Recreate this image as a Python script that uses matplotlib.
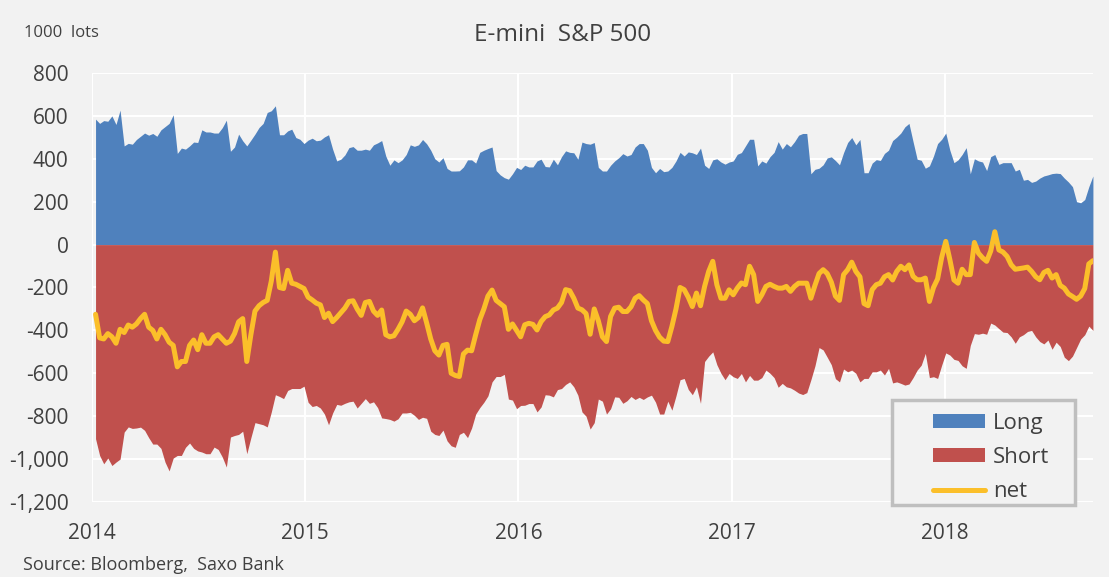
import numpy as np
import pandas as pd
import matplotlib
matplotlib.use('Agg')
import matplotlib.pyplot as plt
from matplotlib.patches import Rectangle
from matplotlib.ticker import FuncFormatter

# weekly positioning, 1000 lots
start_date = '2014-01-07'
year_ticks = ['2014', '2015', '2016', '2017', '2018']
y_ticks = [800, 600, 400, 200, 0, -200, -400, -600, -800, -1000, -1200]

long_vals = [
    585, 565, 578, 575, 600, 560, 627, 460, 472, 468, 490, 505, 520, 510, 518, 505, 535, 550, 565, 605,
    425, 450, 445, 460, 478, 476, 535, 525, 525, 520, 520, 545, 580, 435, 455,
    515, 484, 460, 487, 515, 546, 565, 616, 624, 647, 512, 512, 530, 538, 499, 491, 471, 487, 496, 484,
    487, 502, 512, 445, 390, 398, 418, 452, 457, 440, 440, 445, 440, 465, 474,
    485, 413, 370, 395, 382, 395, 420, 465, 458, 465, 490, 470, 440, 400, 385, 405, 355, 343, 343, 344,
    362, 395, 395, 380, 430, 440, 448, 455, 345, 325, 312, 305, 330, 360, 350,
    370, 362, 362, 390, 398, 364, 362, 398, 372, 410, 437, 430, 428, 398, 478, 471, 468, 476, 360, 343,
    343, 370, 390, 405, 424, 413, 420, 455, 471, 471, 440, 360, 335, 355, 340,
    343, 360, 390, 430, 413, 432, 428, 420, 450, 370, 355, 395, 400, 385, 375, 385, 390, 421, 429, 460,
    491, 491, 367, 390, 380, 410, 430, 480, 445, 471, 456, 480, 510, 518,
    518, 330, 351, 356, 372, 404, 409, 392, 372, 429, 476, 499, 465, 490, 335, 335, 380, 396, 392, 425,
    440, 485, 501, 520, 549, 565, 480, 398, 393, 356, 367, 413, 471, 491, 520,
    440, 382, 395, 420, 452, 330, 400, 390, 385, 345, 410, 420, 374, 382, 382, 382, 343, 351, 300, 304,
    290, 296, 310, 320, 325, 331, 333, 331, 310, 292, 270, 200, 195, 210, 270, 320,
]

short_vals = [
    -905, -983, -1022, -995, -1030, -1014, -1000, -874, -850, -857, -855, -851, -866, -900, -930, -930,
    -950, -1014, -1055, -995, -983, -983, -945, -925, -950, -962, -967, -975, -975, -944, -955, -990,
    -1037, -897, -890,
    -885, -870, -975, -900, -830, -835, -840, -850, -780, -700, -708, -718, -680, -671, -671, -671,
    -660, -735, -755, -750, -762, -790, -840, -785, -745, -749, -740, -733, -730, -762, -740, -718,
    -740, -733, -760,
    -808, -811, -815, -823, -812, -785, -785, -782, -796, -815, -805, -810, -870, -885, -890, -865,
    -915, -938, -945, -885, -875, -900, -855, -790, -760, -735, -705, -640, -615, -615, -605, -720,
    -725, -765, -750,
    -749, -741, -741, -780, -757, -700, -702, -710, -676, -671, -652, -640, -663, -702, -780, -800,
    -860, -830, -720, -730, -790, -765, -710, -712, -740, -728, -708, -722, -712, -722, -710, -702,
    -735, -790, -790,
    -730, -772, -705, -630, -624, -675, -700, -663, -740, -545, -520, -500, -560, -600, -630, -601,
    -616, -624, -601, -640, -610, -632, -632, -620, -585, -600, -620, -665, -647, -663, -668, -679,
    -692, -699,
    -690, -630, -565, -480, -491, -525, -560, -625, -640, -580, -593, -585, -600, -640, -624, -624,
    -593, -593, -585, -608, -577, -645, -640, -647, -655, -650, -620, -585, -562, -507, -620, -616,
    -624, -562, -505,
    -515, -535, -540, -565, -577, -470, -415, -418, -413, -418, -366, -375, -392, -408, -410, -430,
    -460, -430, -420, -405, -400, -430, -452, -463, -445, -488, -455, -475, -525, -541, -520, -480,
    -440, -420, -380, -400,
]

net_vals = [
    -325, -435, -440, -415, -430, -460, -395, -410, -375, -385, -370, -345, -325, -385, -400, -440,
    -395, -420, -455, -470, -570, -545, -545, -470, -445, -490, -420, -460, -460, -430, -420, -440,
    -460, -450, -415,
    -360, -345, -545, -420, -310, -285, -270, -260, -170, -35, -200, -205, -120, -180, -185, -195,
    -205, -245, -258, -273, -281, -340, -320, -359, -340, -318, -296, -265, -262, -300, -330, -270,
    -265, -310, -330,
    -305, -420, -430, -425, -395, -360, -310, -325, -355, -340, -295, -365, -440, -495, -515, -470,
    -465, -600, -610, -615, -510, -492, -495, -420, -350, -300, -240, -212, -260, -275, -290, -395,
    -370, -400, -430,
    -374, -367, -372, -398, -359, -336, -328, -305, -296, -270, -210, -215, -250, -296, -304, -322,
    -418, -300, -355, -430, -452, -335, -296, -292, -312, -312, -290, -250, -238, -258, -275, -355,
    -400, -432, -450,
    -452, -382, -300, -200, -210, -245, -289, -226, -285, -195, -125, -78, -187, -250, -250, -211,
    -234, -203, -179, -187, -101, -140, -265, -234, -195, -185, -195, -203, -203, -195, -218, -195,
    -180, -180,
    -180, -250, -190, -135, -117, -135, -175, -240, -260, -140, -117, -82, -125, -150, -275, -285,
    -210, -187, -180, -150, -140, -165, -125, -101, -117, -95, -148, -164, -164, -156, -265, -200,
    -160, -60, 15,
    -70, -165, -180, -115, -140, -140, 10, -40, -62, -78, -30, 60, -25, -35, -55, -94, -115, -112,
    -109, -105, -125, -150, -164, -130, -120, -156, -140, -190, -203, -230, -242, -255, -240, -205,
    -90, -75,
]

BG = '#f2f2f2'
TXT = '#404040'
plt.rcParams['font.family'] = ['Open Sans', 'DejaVu Sans']

dates = pd.date_range(start_date, periods=len(long_vals), freq='7D')

fig = plt.figure(figsize=(11.09, 5.77), dpi=100, facecolor=BG)
ax = fig.add_axes([0.083, 0.130, 0.9025, 0.7435], facecolor=BG)

ax.fill_between(dates, 0, long_vals, color='#4f81bd', linewidth=0, label='Long', zorder=2)
ax.fill_between(dates, 0, short_vals, color='#c0504d', linewidth=0, label='Short', zorder=2)
ax.plot(dates, net_vals, color='#fbbf2a', linewidth=3.6, label='net', zorder=3,
        solid_joinstyle='round', solid_capstyle='round')

ax.set_ylim(-1200, 800)
ax.set_yticks(y_ticks)
ax.yaxis.set_major_formatter(FuncFormatter(lambda v, p: f'{v:,.0f}'))
ax.set_xlim(pd.Timestamp('2014-01-01'), dates[-1])
ax.set_xticks([pd.Timestamp(y + '-01-01') for y in year_ticks])
ax.set_xticklabels(year_ticks)

ax.grid(True, color='white', linewidth=1.5, zorder=0)
ax.set_axisbelow(True)
for s in ax.spines.values():
    s.set_visible(False)
ax.tick_params(length=0, labelsize=15, colors=TXT)
ax.tick_params(axis='x', pad=15)
ax.tick_params(axis='y', pad=17)

fig.text(0.507, 0.939, 'E-mini  S&P 500', ha='center', va='center', fontsize=17.5, color=TXT)
fig.text(0.022, 0.942, '1000  lots', ha='left', va='center', fontsize=12, color=TXT)
fig.text(0.021, 0.021, 'Source: Bloomberg,  Saxo Bank', ha='left', va='center', fontsize=13, color=TXT)

# legend frame drawn separately so the entries can sit off-centre like the original
frame = Rectangle((0.799, -0.007), 0.183, 0.245, transform=ax.transAxes, facecolor=BG,
                  edgecolor='#bfbfbf', linewidth=2.5, clip_on=False, zorder=5)
ax.add_patch(frame)
leg = ax.legend(loc='upper left', bbox_to_anchor=(0.840, 0.207), fontsize=16, frameon=False,
                handlelength=2.35, handleheight=0.6, handletextpad=0.36, labelspacing=0.58,
                borderpad=0, borderaxespad=0)
leg.set_zorder(6)
for t in leg.get_texts():
    t.set_color(TXT)

fig.savefig('out.png', dpi=100, facecolor=BG)
